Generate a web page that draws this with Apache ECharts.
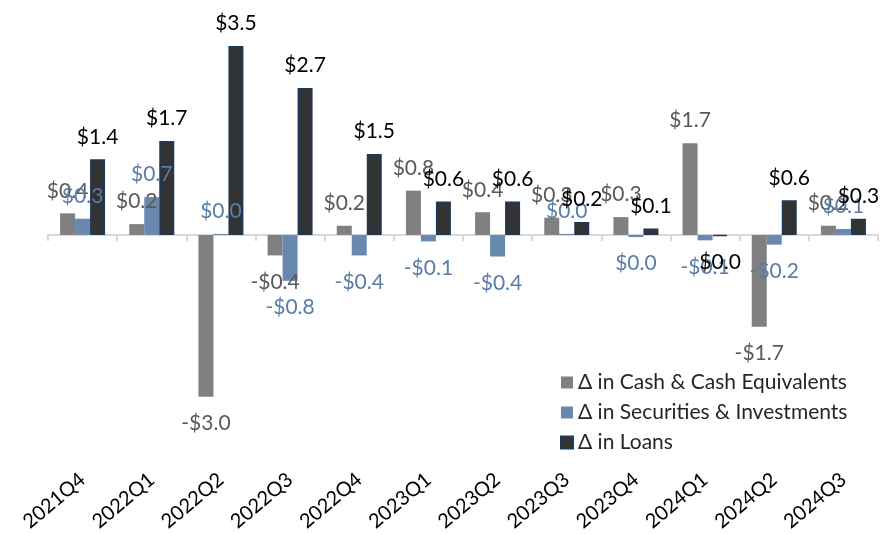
<!DOCTYPE html>
<html>
<head>
<meta charset="utf-8">
<script src="https://cdn.jsdelivr.net/npm/echarts@6/dist/echarts.min.js"></script>
<style>
  html, body { margin: 0; padding: 0; background: #fff; }
  #chart { width: 884px; height: 534px; }
</style>
</head>
<body>
<div id="chart"></div>
<script>
var quarters = ["2021Q4", "2022Q1", "2022Q2", "2022Q3", "2022Q4", "2023Q1",
  "2023Q2", "2023Q3", "2023Q4", "2024Q1", "2024Q2", "2024Q3"];
var cashValues = [0.4, 0.2, -3.0, -0.38, 0.17, 0.82, 0.42, 0.32, 0.33, 1.7, -1.7, 0.17];
var securitiesValues = [0.3, 0.7, 0.02, -0.85, -0.38, -0.12, -0.4, 0.02, -0.04, -0.1, -0.18, 0.11];
var loansValues = [1.4, 1.74, 3.5, 2.72, 1.5, 0.62, 0.62, 0.24, 0.12, -0.02, 0.64, 0.3];
var seriesNames = ["\u0394 in Cash & Cash Equivalents", "\u0394 in Securities & Investments", "\u0394 in Loans"];

var fontFamily = "Lato, 'Noto Sans', sans-serif";

// $0.4 / -$0.4 like the Excel number format
function money(v) {
  var r = Math.round(v * 10) / 10;
  if (r === 0) return "$0.0";
  return (r < 0 ? "-$" : "$") + Math.abs(r).toFixed(1);
}

// put labels above positive bars and below negative ones
function withLabels(values) {
  return values.map(function (v) {
    return {
      value: v,
      label: v < 0 ? { position: "bottom", distance: 16 } : { position: "top", distance: 12 }
    };
  });
}

function makeSeries(name, values, color, labelColor, border) {
  return {
    name: name,
    type: "bar",
    xAxisIndex: 0,
    barWidth: 15,
    barGap: "0%",
    itemStyle: {
      color: color,
      borderColor: border || color,
      borderWidth: border ? 1.5 : 0
    },
    label: {
      show: true,
      color: labelColor,
      fontSize: 21,
      fontFamily: fontFamily,
      formatter: function (p) { return money(p.value); }
    },
    data: withLabels(values)
  };
}

var chart = echarts.init(document.getElementById("chart"));
var option = {
  animation: false,
  grid: { left: 48, right: 6, top: 19, height: 432 },
  legend: {
    orient: "vertical",
    left: 555,
    top: 367,
    itemWidth: 12,
    itemHeight: 12,
    itemGap: 9,
    icon: "rect",
    textStyle: { fontSize: 21, fontFamily: fontFamily, color: "#262626" },
    data: seriesNames
  },
  xAxis: [
    {
      type: "category",
      data: quarters,
      axisLine: { onZero: true, lineStyle: { color: "#d9d9d9", width: 2 } },
      axisTick: { show: true, length: 6, lineStyle: { color: "#d9d9d9", width: 2 } },
      axisLabel: { show: false }
    },
    {
      type: "category",
      data: quarters,
      position: "bottom",
      axisLine: { show: false, onZero: false },
      axisTick: { show: false },
      axisLabel: {
        rotate: 40,
        margin: 26,
        fontSize: 20,
        fontFamily: fontFamily,
        color: "#000",
        interval: 0
      }
    }
  ],
  yAxis: {
    type: "value",
    min: -4,
    max: 4,
    show: false,
    splitLine: { show: false }
  },
  series: [
    makeSeries(seriesNames[0], cashValues, "#808080", "#595959"),
    makeSeries(seriesNames[1], securitiesValues, "#6888ae", "#5a7ca6"),
    makeSeries(seriesNames[2], loansValues, "#333333", "#000000", "#1c3a5c")
  ]
};
chart.setOption(option);
</script>
</body>
</html>
